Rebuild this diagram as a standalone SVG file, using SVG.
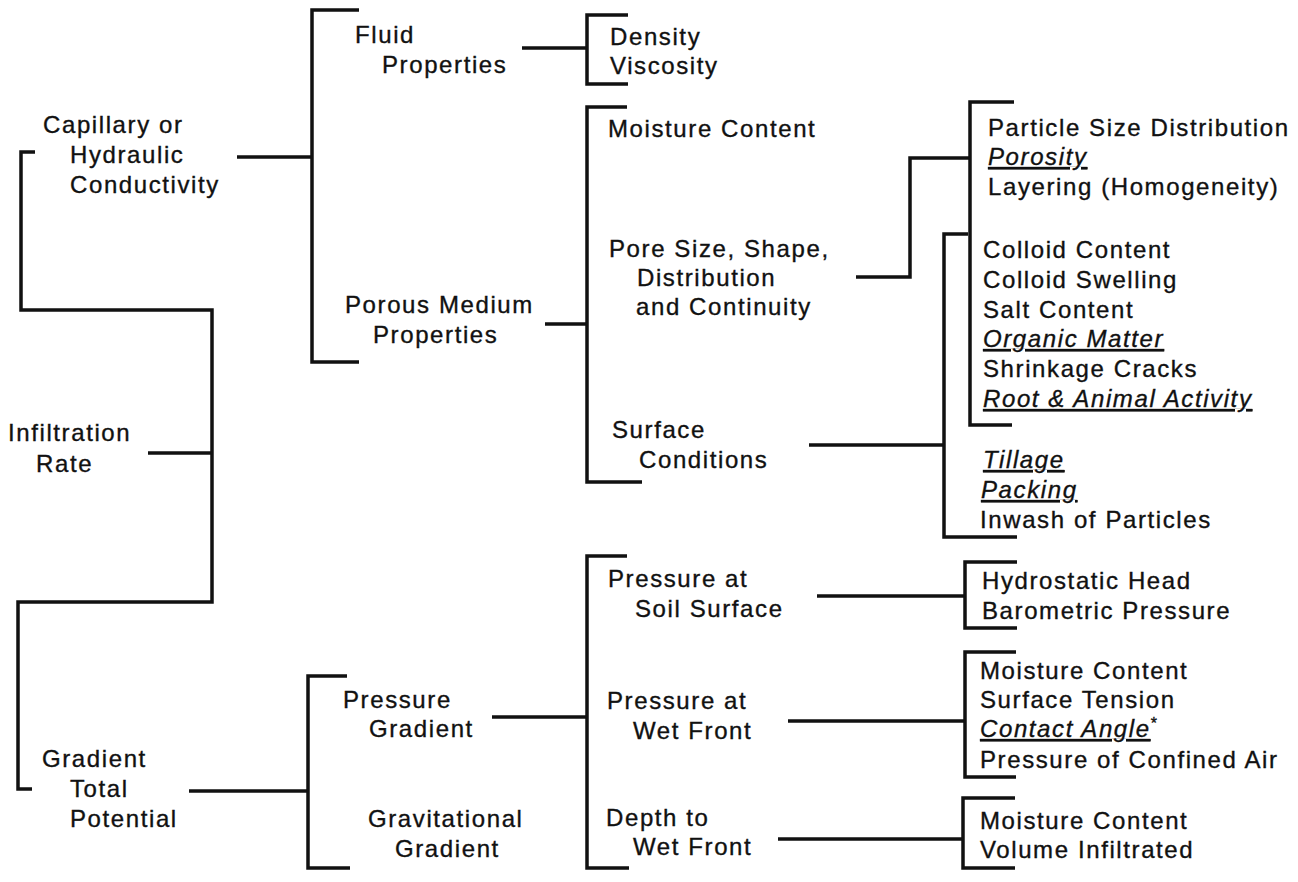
<svg xmlns="http://www.w3.org/2000/svg" width="1298" height="882" viewBox="0 0 1298 882">
<style>
text{font-family:"Liberation Sans",Arial,sans-serif;font-size:24px;letter-spacing:1.6px;fill:#111;stroke:#111;stroke-width:0.35px}
.u{font-style:italic;text-decoration:underline}
.c path{fill:none;stroke:#111;stroke-width:3.5;stroke-linejoin:miter;stroke-linecap:butt}
</style>
<rect width="1298" height="882" fill="#fff"/>
<g id="connectors" class="c">
<path d="M35,152 H21 V310 H212 V602 H18 V789 H32"/>
<path d="M148,453 H212"/>
<path d="M237,157 H312"/>
<path d="M359,10 H312 V362 H359"/>
<path d="M522,48 H587"/>
<path d="M628,15 H587 V84 H628"/>
<path d="M545,324 H587"/>
<path d="M627,107 H587 V482 H642"/>
<path d="M856,277 H910 V158 H970"/>
<path d="M1014,102 H970 V425 H1012"/>
<path d="M809,445 H944"/>
<path d="M968,234 H944 V537 H1017"/>
<path d="M189,791 H308"/>
<path d="M347,676 H308 V868 H350"/>
<path d="M492,717 H587"/>
<path d="M627,556 H587 V868 H629"/>
<path d="M817,596 H965"/>
<path d="M1017,562 H965 V628 H1017"/>
<path d="M788,721 H965"/>
<path d="M1016,652 H965 V777 H1016"/>
<path d="M778,839 H963"/>
<path d="M1015,798 H963 V868 H1015"/>
</g>
<g id="infiltration-rate"><text x="8" y="441">Infiltration</text><text x="36" y="472">Rate</text></g>
<g id="capillary"><text x="43" y="133">Capillary or</text><text x="70" y="163">Hydraulic</text><text x="70" y="193">Conductivity</text></g>
<g id="gradient-total"><text x="42" y="767">Gradient</text><text x="70" y="797">Total</text><text x="70" y="827">Potential</text></g>
<g id="fluid-properties"><text x="355" y="43">Fluid</text><text x="382" y="73">Properties</text></g>
<g id="porous-medium"><text x="345" y="313">Porous Medium</text><text x="373" y="343">Properties</text></g>
<g id="pressure-gradient"><text x="343" y="708">Pressure</text><text x="369" y="737">Gradient</text></g>
<g id="gravitational-gradient"><text x="368" y="827">Gravitational</text><text x="395" y="857">Gradient</text></g>
<g id="density-viscosity"><text x="610" y="45">Density</text><text x="610" y="74">Viscosity</text></g>
<g id="moisture-content"><text x="608" y="137">Moisture Content</text></g>
<g id="pore-size"><text x="609" y="257">Pore Size, Shape,</text><text x="637" y="286">Distribution</text><text x="636" y="315">and Continuity</text></g>
<g id="surface-conditions"><text x="612" y="438">Surface</text><text x="639" y="468">Conditions</text></g>
<g id="pressure-soil-surface"><text x="608" y="587">Pressure at</text><text x="635" y="617">Soil Surface</text></g>
<g id="pressure-wet-front"><text x="607" y="709">Pressure at</text><text x="633" y="739">Wet Front</text></g>
<g id="depth-wet-front"><text x="606" y="826">Depth to</text><text x="633" y="855">Wet Front</text></g>
<g id="particle-group"><text x="988" y="136">Particle Size Distribution</text><text x="988" y="165" class="u">Porosity</text><text x="988" y="195">Layering (Homogeneity)</text></g>
<g id="colloid-group"><text x="983" y="258">Colloid Content</text><text x="983" y="288">Colloid Swelling</text><text x="983" y="318">Salt Content</text><text x="983" y="347" class="u">Organic Matter</text><text x="983" y="377">Shrinkage Cracks</text><text x="983" y="407" class="u">Root &amp; Animal Activity</text></g>
<g id="tillage-group"><text x="983" y="468" class="u">Tillage</text><text x="981" y="498" class="u">Packing</text><text x="980" y="528">Inwash of Particles</text></g>
<g id="hydrostatic-group"><text x="982" y="589">Hydrostatic Head</text><text x="982" y="619">Barometric Pressure</text></g>
<g id="wetfront-group"><text x="980" y="679">Moisture Content</text><text x="980" y="708">Surface Tension</text><text x="980" y="737"><tspan class="u">Contact Angle</tspan><tspan dy="-8" font-size="16">*</tspan></text><text x="980" y="768">Pressure of Confined Air</text></g>
<g id="depth-group"><text x="980" y="829">Moisture Content</text><text x="980" y="858">Volume Infiltrated</text></g>
</svg>
